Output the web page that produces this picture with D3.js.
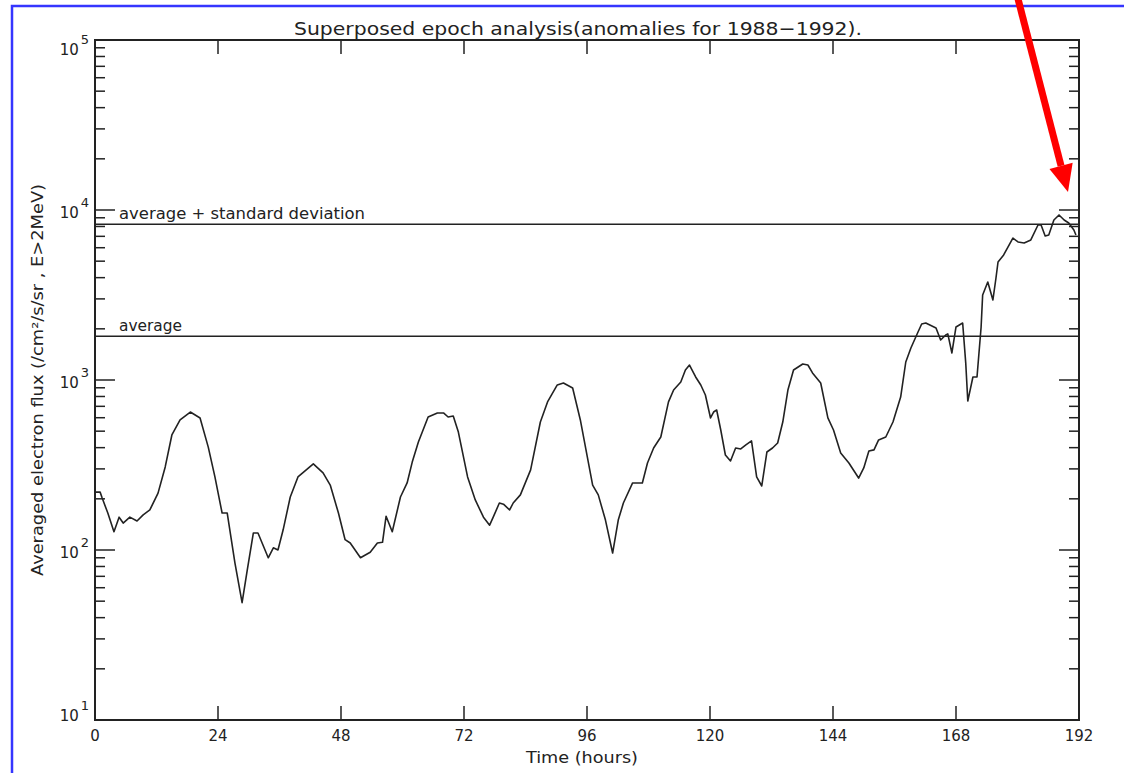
<!DOCTYPE html>
<html lang="en">
<head>
<meta charset="utf-8">
<title>Superposed epoch analysis</title>
<script src="https://d3js.org/d3.v7.min.js"></script>
<style>
    body { margin: 0; background: #fff; }
    svg text { font-family: "DejaVu Sans", sans-serif; fill: #222; }
</style>
</head>
<body>
<svg id="chart" width="1124" height="773"></svg>
<script>
    // time since epoch (hours) and averaged flux
    const hours = [0, 1.0, 1.4, 2.5, 3.7, 4.7, 5.5, 6.8, 8.2, 9.4, 10.7, 12.3, 13.7, 15.0, 16.6, 18.6, 20.5, 22.1, 23.4, 24.8,
        25.8, 27.3, 28.7, 29.7, 30.9, 31.8, 33.8, 34.8, 35.7, 36.7, 38.1, 39.6, 42.6, 44.5, 45.9, 47.5, 48.8, 49.8, 51.8, 53.7,
        55.1, 56.1, 56.8, 58.0, 59.6, 60.9, 61.9, 63.1, 65.0, 66.8, 68.0, 68.9, 69.9, 70.9, 72.7, 74.2, 75.8, 77.0, 77.7, 78.9,
        79.7, 80.9, 81.6, 83.0, 85.0, 86.9, 88.3, 90.2, 91.4, 93.2, 94.7, 97.1, 98.2, 99.6, 101.0, 102.1, 103.1, 104.9, 106.8, 107.8,
        109.0, 110.4, 111.9, 112.9, 114.3, 115.2, 116.0, 117.2, 118.2, 119.1, 120.1, 120.7, 121.3, 122.1, 123.0, 124.0, 125.0, 126.0, 127.0, 128.1,
        129.1, 130.1, 131.1, 132.2, 133.2, 134.2, 135.2, 136.3, 138.1, 139.1, 140.0, 141.6, 143.0, 144.1, 145.5, 147.1, 149.0, 150.0, 151.0, 152.0,
        152.9, 154.3, 155.7, 157.2, 158.2, 159.2, 160.5, 161.3, 162.1, 164.1, 165.0, 166.0, 166.4, 167.2, 168.0, 169.3, 169.9, 170.3, 171.3, 172.1,
        172.9, 173.2, 174.2, 175.2, 175.8, 176.2, 177.3, 179.1, 180.1, 181.3, 182.6, 184.0, 184.6, 185.4, 186.1, 187.1, 188.1, 189.1, 190.0, 191.0, 191.4];
    const flux = [219, 219, 202, 165, 128, 156, 144, 156, 148, 161, 172, 216, 308, 475, 582, 648, 598, 403, 269, 165,
        165, 84, 49, 76, 126, 126, 90, 103, 100, 131, 205, 269, 321, 284, 241, 165, 115, 110, 90, 97,
        110, 111, 158, 128, 205, 248, 329, 432, 606, 640, 640, 606, 614, 494, 269, 197, 156, 140, 156, 189,
        186, 172, 189, 211, 296, 566, 743, 935, 960, 897, 582, 241, 211, 150, 96, 150, 189, 248, 248, 325,
        398, 462, 743, 873, 973, 1145, 1225, 1042, 935, 816, 598, 648, 666, 508, 362, 334, 398, 393, 415, 438,
        269, 238, 377, 398, 426, 566, 873, 1145, 1242, 1225, 1100, 960, 598, 508, 372, 325, 265, 304, 382, 388,
        444, 462, 566, 794, 1276, 1542, 1890, 2135, 2163, 2023, 1719, 1840, 1867, 1442, 2051, 2163, 1259, 752, 1042, 1042,
        2051, 3162, 3770, 2955, 3981, 4945, 5438, 6840, 6486, 6400, 6666, 8160, 8160, 7030, 7130, 8730, 9350, 8730, 8390, 7630, 7130];

    const refLines = [1810, 8250];
    const refLabels = ["average", "average + standard deviation"];
    const xTicks = [0, 24, 48, 72, 96, 120, 144, 168, 192];
    const yDecades = [1, 2, 3, 4, 5];

    const margin = {left: 95, top: 40, right: 45, bottom: 53};
    const W = 1124, H = 773;

    const svg = d3.select("#chart");

    // blue frame of the screenshot
    svg.append("rect")
        .attr("x", 12).attr("y", 6)
        .attr("width", 2000).attr("height", 2000)
        .attr("fill", "none")
        .attr("stroke", "#3535ff")
        .attr("stroke-width", 2.5);

    const x = d3.scaleLinear().domain([0, 192]).range([margin.left, W - margin.right]);
    const y = d3.scaleLog().domain([10, 1e5]).range([H - margin.bottom, margin.top]);

    const g = svg.append("g");

    // ticks on all four sides
    const minor = [];
    yDecades.slice(0, -1).forEach(e => {
        for (let k = 2; k <= 9; k++) minor.push(k * Math.pow(10, e));
    });
    const majors = yDecades.map(e => Math.pow(10, e));

    [x.range()[0], x.range()[1]].forEach((x0, side) => {
        const dir = side === 0 ? 1 : -1;
        g.selectAll(null).data(minor).join("line")
            .attr("x1", x0).attr("x2", x0 + dir * 10)
            .attr("y1", d => y(d)).attr("y2", d => y(d))
            .attr("stroke", "#222").attr("stroke-width", 1.5);
        g.selectAll(null).data(majors).join("line")
            .attr("x1", x0).attr("x2", x0 + dir * 20)
            .attr("y1", d => y(d)).attr("y2", d => y(d))
            .attr("stroke", "#222").attr("stroke-width", 1.5);
    });

    [y.range()[0], y.range()[1]].forEach((y0, side) => {
        const dir = side === 0 ? -1 : 1;
        g.selectAll(null).data(xTicks.slice(1, -1)).join("line")
            .attr("x1", d => x(d)).attr("x2", d => x(d))
            .attr("y1", y0).attr("y2", y0 + dir * 14)
            .attr("stroke", "#222").attr("stroke-width", 1.5);
    });

    // axis frame
    g.append("rect")
        .attr("x", x.range()[0]).attr("y", y.range()[1])
        .attr("width", x.range()[1] - x.range()[0])
        .attr("height", y.range()[0] - y.range()[1])
        .attr("fill", "none")
        .attr("stroke", "#222").attr("stroke-width", 2);

    // x tick labels
    g.selectAll(null).data(xTicks).join("text")
        .attr("x", d => x(d))
        .attr("y", y.range()[0] + 21)
        .attr("text-anchor", "middle")
        .attr("font-size", 15)
        .text(d => d);

    // y tick labels, 10 with exponent
    const yLab = g.selectAll(null).data(yDecades).join("text")
        .attr("x", 78)
        .attr("y", d => {
            const py = y(Math.pow(10, d));
            if (d === 5) return py + 15;
            if (d === 1) return py + 1;
            return py + 8;
        })
        .attr("text-anchor", "end")
        .attr("font-size", 15);
    yLab.append("tspan").text("10");
    yLab.append("tspan")
        .attr("dx", 2).attr("dy", -11)
        .attr("font-size", 13)
        .text(d => d);
    yLab.attr("x", 89);

    // reference lines
    g.selectAll(null).data(refLines).join("line")
        .attr("x1", x.range()[0]).attr("x2", x.range()[1])
        .attr("y1", d => y(d)).attr("y2", d => y(d))
        .attr("stroke", "#222").attr("stroke-width", 1.5);
    g.selectAll(null).data(refLines).join("text")
        .attr("x", 119)
        .attr("y", d => y(d) - 5)
        .attr("font-size", 15)
        .attr("textLength", (d, i) => i === 0 ? 63 : 246)
        .attr("lengthAdjust", "spacingAndGlyphs")
        .text((d, i) => refLabels[i]);

    // flux curve
    const line = d3.line()
        .x(d => x(d[0]))
        .y(d => y(d[1]));
    g.append("path")
        .datum(hours.map((h, i) => [h, flux[i]]))
        .attr("d", line)
        .attr("fill", "none")
        .attr("stroke", "#222")
        .attr("stroke-width", 1.6)
        .attr("stroke-linejoin", "round");

    // titles
    svg.append("text")
        .attr("x", 578).attr("y", 35)
        .attr("text-anchor", "middle")
        .attr("font-size", 18)
        .attr("textLength", 568)
        .attr("lengthAdjust", "spacingAndGlyphs")
        .text("Superposed epoch analysis(anomalies for 1988\u22121992).");

    svg.append("text")
        .attr("x", 582).attr("y", 763)
        .attr("text-anchor", "middle")
        .attr("font-size", 16)
        .attr("textLength", 112)
        .attr("lengthAdjust", "spacingAndGlyphs")
        .text("Time (hours)");

    svg.append("text")
        .attr("transform", "translate(43,380) rotate(-90)")
        .attr("text-anchor", "middle")
        .attr("font-size", 15)
        .attr("textLength", 392)
        .attr("lengthAdjust", "spacingAndGlyphs")
        .text("Averaged electron flux (/cm\u00b2/s/sr , E>2MeV)");

    // red arrow pointing at the last peak
    const tip = [1068, 192];
    const tail = [1017, 0];
    const ang = Math.atan2(tip[1] - tail[1], tip[0] - tail[0]);
    const headLen = 27, headW = 12;
    const bx = tip[0] - headLen * Math.cos(ang), by = tip[1] - headLen * Math.sin(ang);
    svg.append("line")
        .attr("x1", tail[0]).attr("y1", tail[1] - 5)
        .attr("x2", bx).attr("y2", by)
        .attr("stroke", "#ff0000").attr("stroke-width", 7);
    svg.append("path")
        .attr("d", `M${tip[0]},${tip[1]}L${bx + headW * Math.sin(ang)},${by - headW * Math.cos(ang)}L${bx - headW * Math.sin(ang)},${by + headW * Math.cos(ang)}Z`)
        .attr("fill", "#ff0000");
</script>
</body>
</html>
